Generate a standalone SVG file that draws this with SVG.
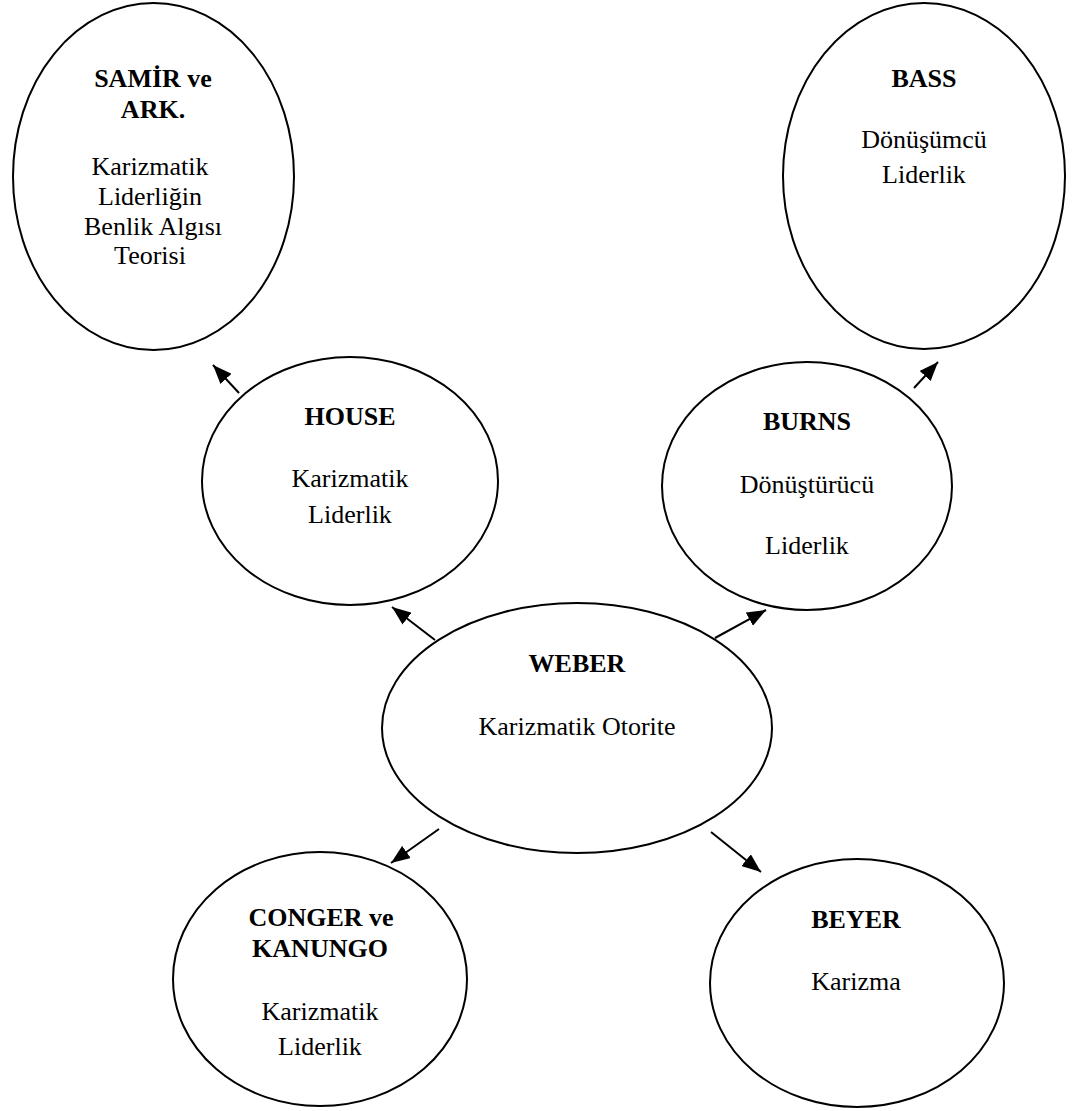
<svg xmlns="http://www.w3.org/2000/svg" width="1072" height="1111" viewBox="0 0 1072 1111">
<style>
.node ellipse{fill:#fff;stroke:#000;stroke-width:2}
text{font-family:"Liberation Serif","Times New Roman",serif;font-size:26px;fill:#000;text-anchor:middle}
.t{font-weight:bold}
.conn line{stroke:#000;stroke-width:2;fill:none}
</style>
<defs>
<marker id="ah" markerWidth="19" markerHeight="15" refX="19" refY="7.5" orient="auto" markerUnits="userSpaceOnUse">
<path d="M0,0 L19,7.5 L0,15 z" fill="#000"/>
</marker>
</defs>
<rect width="1072" height="1111" fill="#fff"/>
<g class="conn">
<line x1="239" y1="393" x2="213" y2="365" marker-end="url(#ah)"/>
<line x1="435" y1="640" x2="392" y2="607" marker-end="url(#ah)"/>
<line x1="715" y1="638" x2="766" y2="610" marker-end="url(#ah)"/>
<line x1="914" y1="388" x2="938" y2="362" marker-end="url(#ah)"/>
<line x1="439" y1="829" x2="391" y2="863" marker-end="url(#ah)"/>
<line x1="711" y1="832" x2="761" y2="872" marker-end="url(#ah)"/>
</g>
<g id="samir" class="node">
<ellipse cx="153.5" cy="176.5" rx="140.5" ry="173.5"/>
<text x="153" y="87" class="t">SAMİR ve</text>
<text x="153" y="118" class="t">ARK.</text>
<text x="150" y="175">Karizmatik</text>
<text x="150" y="205">Liderliğin</text>
<text x="153" y="235">Benlik Algısı</text>
<text x="150" y="264">Teorisi</text>
</g>
<g id="bass" class="node">
<ellipse cx="924" cy="176" rx="141" ry="173"/>
<text x="924" y="87" class="t">BASS</text>
<text x="924" y="148">Dönüşümcü</text>
<text x="924" y="183">Liderlik</text>
</g>
<g id="house" class="node">
<ellipse cx="350" cy="481" rx="148" ry="124"/>
<text x="350" y="425" class="t">HOUSE</text>
<text x="350" y="487">Karizmatik</text>
<text x="350" y="523">Liderlik</text>
</g>
<g id="burns" class="node">
<ellipse cx="807" cy="486" rx="145" ry="124"/>
<text x="807" y="430" class="t">BURNS</text>
<text x="807" y="493">Dönüştürücü</text>
<text x="807" y="554">Liderlik</text>
</g>
<g id="weber" class="node">
<ellipse cx="577" cy="728" rx="195" ry="125"/>
<text x="577" y="672" class="t">WEBER</text>
<text x="577" y="735">Karizmatik Otorite</text>
</g>
<g id="conger" class="node">
<ellipse cx="320" cy="979" rx="147" ry="127"/>
<text x="321" y="926" class="t">CONGER ve</text>
<text x="320" y="957" class="t">KANUNGO</text>
<text x="320" y="1020">Karizmatik</text>
<text x="320" y="1055">Liderlik</text>
</g>
<g id="beyer" class="node">
<ellipse cx="857" cy="983" rx="147" ry="124"/>
<text x="856" y="928" class="t">BEYER</text>
<text x="856" y="990">Karizma</text>
</g>
</svg>
